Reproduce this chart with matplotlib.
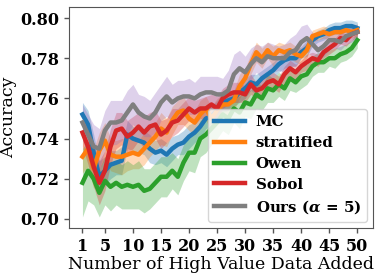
import numpy as np
import matplotlib
matplotlib.use("Agg")
import matplotlib.pyplot as plt

# Data
n_added = list(range(1, 51))

mc = [0.752, 0.747, 0.733, 0.721, 0.724, 0.727, 0.728, 0.729, 0.742, 0.740,
      0.739, 0.738, 0.735, 0.733, 0.734, 0.732, 0.735, 0.737, 0.738, 0.741,
      0.743, 0.746, 0.750, 0.751, 0.754, 0.758, 0.759, 0.760, 0.763, 0.765,
      0.768, 0.767, 0.770, 0.772, 0.774, 0.777, 0.779, 0.780, 0.780, 0.783,
      0.785, 0.789, 0.791, 0.792, 0.794, 0.795, 0.795, 0.796, 0.796, 0.795]
mc_std = [0.006, 0.007, 0.009, 0.008, 0.007, 0.007, 0.006, 0.007, 0.007, 0.006,
          0.006, 0.006, 0.007, 0.006, 0.006, 0.006, 0.006, 0.005, 0.006, 0.006,
          0.005, 0.006, 0.005, 0.005, 0.005, 0.005, 0.005, 0.004, 0.005, 0.005,
          0.004, 0.005, 0.004, 0.004, 0.004, 0.004, 0.004, 0.004, 0.004, 0.003,
          0.004, 0.003, 0.003, 0.003, 0.003, 0.003, 0.003, 0.003, 0.003, 0.003]

stratified = [0.731, 0.735, 0.725, 0.734, 0.739, 0.732, 0.731, 0.731, 0.732, 0.733,
              0.732, 0.735, 0.738, 0.741, 0.745, 0.743, 0.749, 0.753, 0.754, 0.750,
              0.748, 0.752, 0.755, 0.750, 0.754, 0.757, 0.757, 0.759, 0.766, 0.770,
              0.777, 0.783, 0.780, 0.784, 0.781, 0.784, 0.783, 0.784, 0.782, 0.781,
              0.784, 0.791, 0.792, 0.793, 0.792, 0.793, 0.793, 0.794, 0.793, 0.794]
stratified_std = [0.008, 0.009, 0.010, 0.009, 0.009, 0.008, 0.008, 0.009, 0.008, 0.008,
                  0.007, 0.008, 0.007, 0.007, 0.008, 0.007, 0.007, 0.006, 0.007, 0.006,
                  0.006, 0.007, 0.006, 0.006, 0.006, 0.005, 0.006, 0.005, 0.006, 0.005,
                  0.005, 0.005, 0.005, 0.004, 0.005, 0.004, 0.004, 0.004, 0.004, 0.004,
                  0.004, 0.003, 0.003, 0.003, 0.003, 0.003, 0.003, 0.003, 0.003, 0.003]

owen = [0.718, 0.724, 0.720, 0.713, 0.719, 0.716, 0.718, 0.716, 0.717, 0.716,
        0.717, 0.714, 0.715, 0.718, 0.721, 0.721, 0.724, 0.721, 0.728, 0.733,
        0.733, 0.740, 0.742, 0.745, 0.748, 0.752, 0.750, 0.755, 0.753, 0.758,
        0.757, 0.762, 0.760, 0.765, 0.764, 0.767, 0.765, 0.770, 0.768, 0.771,
        0.772, 0.776, 0.778, 0.778, 0.780, 0.780, 0.782, 0.783, 0.785, 0.789]
owen_std = [0.017, 0.015, 0.013, 0.012, 0.012, 0.012, 0.011, 0.011, 0.012, 0.011,
            0.012, 0.011, 0.010, 0.010, 0.010, 0.010, 0.009, 0.009, 0.009, 0.009,
            0.010, 0.009, 0.009, 0.008, 0.008, 0.008, 0.008, 0.007, 0.008, 0.007,
            0.007, 0.007, 0.006, 0.007, 0.006, 0.006, 0.006, 0.006, 0.005, 0.006,
            0.005, 0.005, 0.005, 0.005, 0.004, 0.005, 0.004, 0.004, 0.004, 0.004]

sobol = [0.743, 0.736, 0.726, 0.718, 0.724, 0.736, 0.744, 0.745, 0.741, 0.743,
         0.746, 0.743, 0.746, 0.747, 0.742, 0.744, 0.748, 0.749, 0.752, 0.755,
         0.753, 0.755, 0.755, 0.757, 0.755, 0.760, 0.762, 0.763, 0.763, 0.762,
         0.767, 0.764, 0.765, 0.768, 0.769, 0.767, 0.772, 0.775, 0.773, 0.776,
         0.778, 0.780, 0.779, 0.783, 0.785, 0.787, 0.790, 0.789, 0.792, 0.793]
sobol_std = [0.007, 0.009, 0.010, 0.011, 0.010, 0.009, 0.009, 0.008, 0.008, 0.008,
             0.007, 0.008, 0.007, 0.007, 0.007, 0.006, 0.007, 0.006, 0.006, 0.006,
             0.006, 0.005, 0.006, 0.005, 0.006, 0.005, 0.005, 0.005, 0.005, 0.004,
             0.005, 0.004, 0.005, 0.004, 0.004, 0.004, 0.004, 0.004, 0.004, 0.003,
             0.004, 0.003, 0.003, 0.003, 0.003, 0.003, 0.003, 0.003, 0.003, 0.003]

ours = [0.748, 0.742, 0.736, 0.735, 0.744, 0.748, 0.748, 0.749, 0.753, 0.757,
        0.753, 0.751, 0.750, 0.753, 0.758, 0.761, 0.758, 0.760, 0.761, 0.761,
        0.760, 0.762, 0.763, 0.763, 0.762, 0.762, 0.764, 0.772, 0.775, 0.773,
        0.777, 0.780, 0.778, 0.781, 0.780, 0.780, 0.780, 0.783, 0.784, 0.788,
        0.790, 0.787, 0.784, 0.786, 0.789, 0.789, 0.788, 0.791, 0.792, 0.793]
ours_std = [0.009, 0.010, 0.011, 0.010, 0.010, 0.011, 0.011, 0.010, 0.011, 0.010,
            0.009, 0.010, 0.009, 0.010, 0.009, 0.010, 0.009, 0.009, 0.008, 0.009,
            0.008, 0.009, 0.008, 0.008, 0.009, 0.008, 0.010, 0.010, 0.009, 0.008,
            0.008, 0.007, 0.008, 0.007, 0.007, 0.006, 0.007, 0.007, 0.008, 0.008,
            0.007, 0.006, 0.005, 0.005, 0.005, 0.004, 0.004, 0.004, 0.004, 0.004]

labels = ["MC", "stratified", "Owen", "Sobol", r"Ours ($\boldsymbol{\alpha}$ = 5)"]
x_ticks = [1, 5, 10, 15, 20, 25, 30, 35, 40, 45, 50]
y_ticks = [0.70, 0.72, 0.74, 0.76, 0.78, 0.80]

# Style
plt.rcParams["font.family"] = "DejaVu Serif"
plt.rcParams["mathtext.fontset"] = "dejavuserif"

series = [(mc, mc_std, "tab:blue", "tab:blue"),
          (stratified, stratified_std, "tab:orange", "tab:orange"),
          (owen, owen_std, "tab:green", "tab:green"),
          (sobol, sobol_std, "tab:red", "tab:red"),
          (ours, ours_std, "tab:gray", "tab:purple")]

fig = plt.figure(figsize=(3.82, 2.74), dpi=100)
ax = fig.add_axes([69/382, 1-228/274, (373-69)/382, (228-7)/274])

x = np.array(n_added)
for (m, s, lc, fc), lab in zip(series, labels):
    m = np.array(m); s = np.array(s)
    ax.fill_between(x, m-s, m+s, color=fc, alpha=0.3, lw=0)
    ax.plot(x, m, color=lc, lw=3.2, label=lab)

ax.set_xlim(-1.4, 52.8)
ax.set_ylim(0.6955, 0.8055)
ax.set_xticks(x_ticks)
ax.set_yticks(y_ticks)
ax.set_yticklabels([f"{v:.2f}" for v in y_ticks])
for t in ax.get_xticklabels() + ax.get_yticklabels():
    t.set_fontweight("bold")
    t.set_fontsize(11.5)
ax.tick_params(colors="#555555", labelcolor="black", length=3.5, width=1)
for sp in ax.spines.values():
    sp.set_color("#555555")

ax.set_xlabel("Number of High Value Data Added", fontsize=12.5, labelpad=1)
ax.set_ylabel("Accuracy", fontsize=12.5, labelpad=2)

leg = ax.legend(loc="lower right", prop={"weight": "bold", "size": 10.8},
                handlelength=2.1, handletextpad=0.7, borderaxespad=0.4,
                labelspacing=0.45)
for h in leg.get_lines():
    h.set_linewidth(3.2)

fig.savefig("out.png", dpi=100)
